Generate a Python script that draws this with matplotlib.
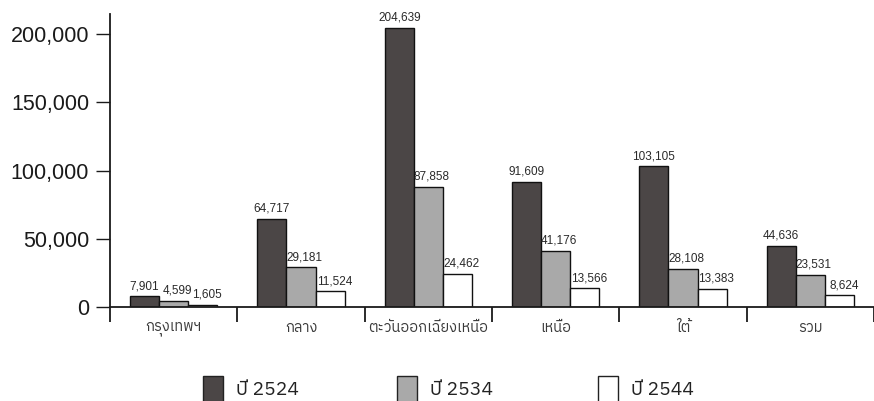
#!/usr/bin/env python3
"""Grouped bar chart: counts by region for three survey years (Thai labels)."""

import matplotlib

matplotlib.use("Agg")
import matplotlib.pyplot as plt
import numpy as np
from matplotlib import font_manager
from matplotlib.ft2font import FT2Font
from matplotlib.patches import Rectangle

regions = ["กรุงเทพฯ", "กลาง", "ตะวันออกเฉียงเหนือ", "เหนือ", "ใต้", "รวม"]
series_names = ["ปี 2524", "ปี 2534", "ปี 2544"]
values_2524 = [7901, 64717, 204639, 91609, 103105, 44636]
values_2534 = [4599, 29181, 87858, 41176, 28108, 23531]
values_2544 = [1605, 11524, 24462, 13566, 13383, 8624]
y_ticks = [0, 50000, 100000, 150000, 200000]

BAR_COLORS = ["#4b4646", "#a9a9a9", "#ffffff"]
LABEL_SHIFT = [0.0, 2.4, 3.2]  # points; the scanned labels sit a bit right of the lighter bars


def find_thai_family() -> list[str]:
    """Return a family list that starts with a font able to draw Thai."""
    preferred = ("thai", "loma", "garuda", "sarabun", "norasi", "kinnari", "waree", "umpush", "tlwg")
    found = []
    for entry in font_manager.fontManager.ttflist:
        try:
            if FT2Font(entry.fname).get_char_index(ord("ก")) == 0:
                continue
        except Exception:
            continue
        score = 0 if any(p in entry.name.lower() for p in preferred) else 1
        found.append((score, entry.name))
    found.sort()
    names = [name for _, name in found]
    return names[:1] + ["DejaVu Sans"]


thai_family = find_thai_family()
plt.rcParams["font.family"] = ["Liberation Sans", "DejaVu Sans"]

fig = plt.figure(figsize=(8.74, 4.01), dpi=100)
ax = fig.add_axes([110 / 874, 94 / 401, 1 - 110 / 874, 293 / 401])

x = np.arange(len(regions))
width = 0.228
series = [values_2524, values_2534, values_2544]
for i, (vals, color) in enumerate(zip(series, BAR_COLORS)):
    bars = ax.bar(x + (i - 1) * width, vals, width, color=color, edgecolor="#111111", linewidth=1.0, zorder=2)
    for bar, v in zip(bars, vals):
        ax.annotate(
            f"{v:,}",
            (bar.get_x() + bar.get_width() / 2, bar.get_height()),
            xytext=(LABEL_SHIFT[i], 3),
            textcoords="offset points",
            ha="center",
            va="bottom",
            fontsize=8.5,
            color="#2a2a2a",
        )

ax.set_xlim(-0.5, -0.5 + 764 / 129)
ax.set_ylim(0, 214700)
ax.set_yticks(y_ticks)
ax.set_yticklabels([f"{t:,}" for t in y_ticks])
ax.tick_params(axis="y", length=10, width=1.0, pad=5, labelsize=15.5, colors="#1a1a1a")

ax.set_xticks(x)
ax.set_xticklabels(regions, family=thai_family, fontsize=10.5, color="#3a3a3a")
ax.set_xticks(np.arange(len(regions) + 1) - 0.5, minor=True)
ax.tick_params(axis="x", which="major", length=0, pad=10)
ax.tick_params(axis="x", which="minor", length=11, width=1.3, color="#1a1a1a")

for side in ("top", "right"):
    ax.spines[side].set_visible(False)
for side in ("left", "bottom"):
    ax.spines[side].set_linewidth(1.3)
    ax.spines[side].set_color("#1a1a1a")

# legend drawn by hand: wide spacing, squares run off the bottom edge
legend_x = [203, 397, 598]
for name, color, lx in zip(series_names, BAR_COLORS, legend_x):
    fig.patches.append(
        Rectangle((lx / 874, -0.05), 20 / 874, 25 / 401 + 0.05, transform=fig.transFigure,
                  facecolor=color, edgecolor="#222222", linewidth=1.0)
    )
    fig.text((lx + 33) / 874, 11 / 401, name, family=thai_family, fontsize=14,
             va="center", ha="left", color="#222222")

fig.savefig("out.png", dpi=100)
